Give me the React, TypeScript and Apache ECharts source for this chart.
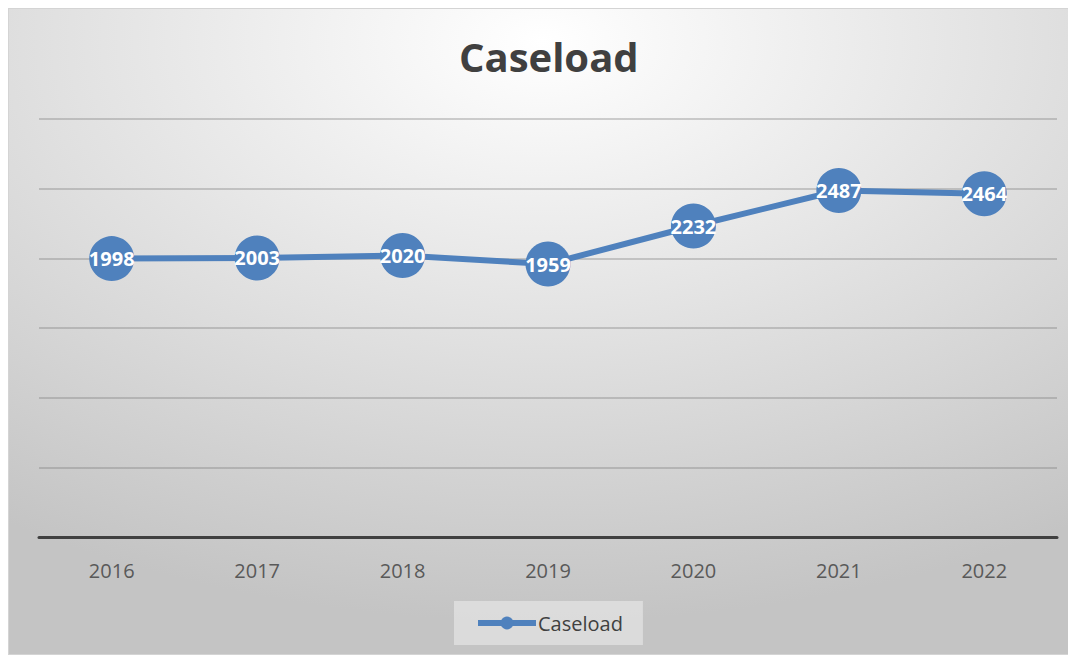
import React, { useEffect, useRef } from "react";
import * as echarts from "echarts";

const years = ["2016", "2017", "2018", "2019", "2020", "2021", "2022"];
const caseload = [1998, 2003, 2020, 1959, 2232, 2487, 2464];
const seriesName = "Caseload";
const titleText = "Caseload";

export default function App() {
  const ref = useRef<HTMLDivElement>(null);
  useEffect(() => {
    if (!ref.current) return;
    const chart = echarts.init(ref.current, undefined, { renderer: "svg" });
    chart.setOption({
      animation: false,
      backgroundColor: {
        type: "radial",
        x: 0.5,
        y: 0.05,
        r: 0.9,
        colorStops: [
          { offset: 0, color: "#ffffff" },
          { offset: 1, color: "#c4c4c4" },
        ],
      },
      title: {
        text: titleText,
        left: 445,
        top: 22,
        textStyle: {
          fontFamily: "Open Sans",
          fontWeight: "bold",
          fontSize: 40,
          color: "#404040",
        },
      },
      grid: { left: 30, right: 18, top: 110, bottom: 117, containLabel: false },
      xAxis: {
        type: "category",
        data: years,
        boundaryGap: true,
        axisLine: { lineStyle: { color: "#404040", width: 3 } },
        axisTick: { show: false },
        axisLabel: {
          fontFamily: "Open Sans",
          fontSize: 20,
          color: "#595959",
          margin: 23,
        },
      },
      yAxis: {
        type: "value",
        min: 0,
        max: 3000,
        interval: 500,
        axisLabel: { show: false },
        axisLine: { show: false },
        axisTick: { show: false },
        splitLine: { lineStyle: { color: "rgba(120,120,120,0.45)", width: 1.5 } },
      },
      legend: {
        bottom: 9,
        left: 445,
        data: [seriesName],
        backgroundColor: "rgba(235,235,235,0.6)",
        padding: [12, 20, 12, 21],
        itemWidth: 58,
        itemHeight: 16,
        itemGap: 2,
        lineStyle: { width: 6 },
        textStyle: { fontFamily: "Open Sans", fontSize: 20, color: "#404040", padding: [0, 0, 0, -3] },
      },
      series: [
        {
          name: seriesName,
          type: "line",
          data: caseload,
          symbol: "circle",
          symbolSize: 45,
          itemStyle: { color: "#4f81bd" },
          lineStyle: { color: "#4f81bd", width: 6 },
          label: {
            show: true,
            position: "inside",
            color: "#ffffff",
            fontFamily: "Open Sans",
            fontWeight: "bold",
            fontSize: 20,
          },
        },
      ],
    });
    return () => chart.dispose();
  }, []);
  return (
    <div
      ref={ref}
      style={{ width: 1068, height: 647, border: "1px solid #d4d4d4", boxSizing: "border-box" }}
    />
  );
}
